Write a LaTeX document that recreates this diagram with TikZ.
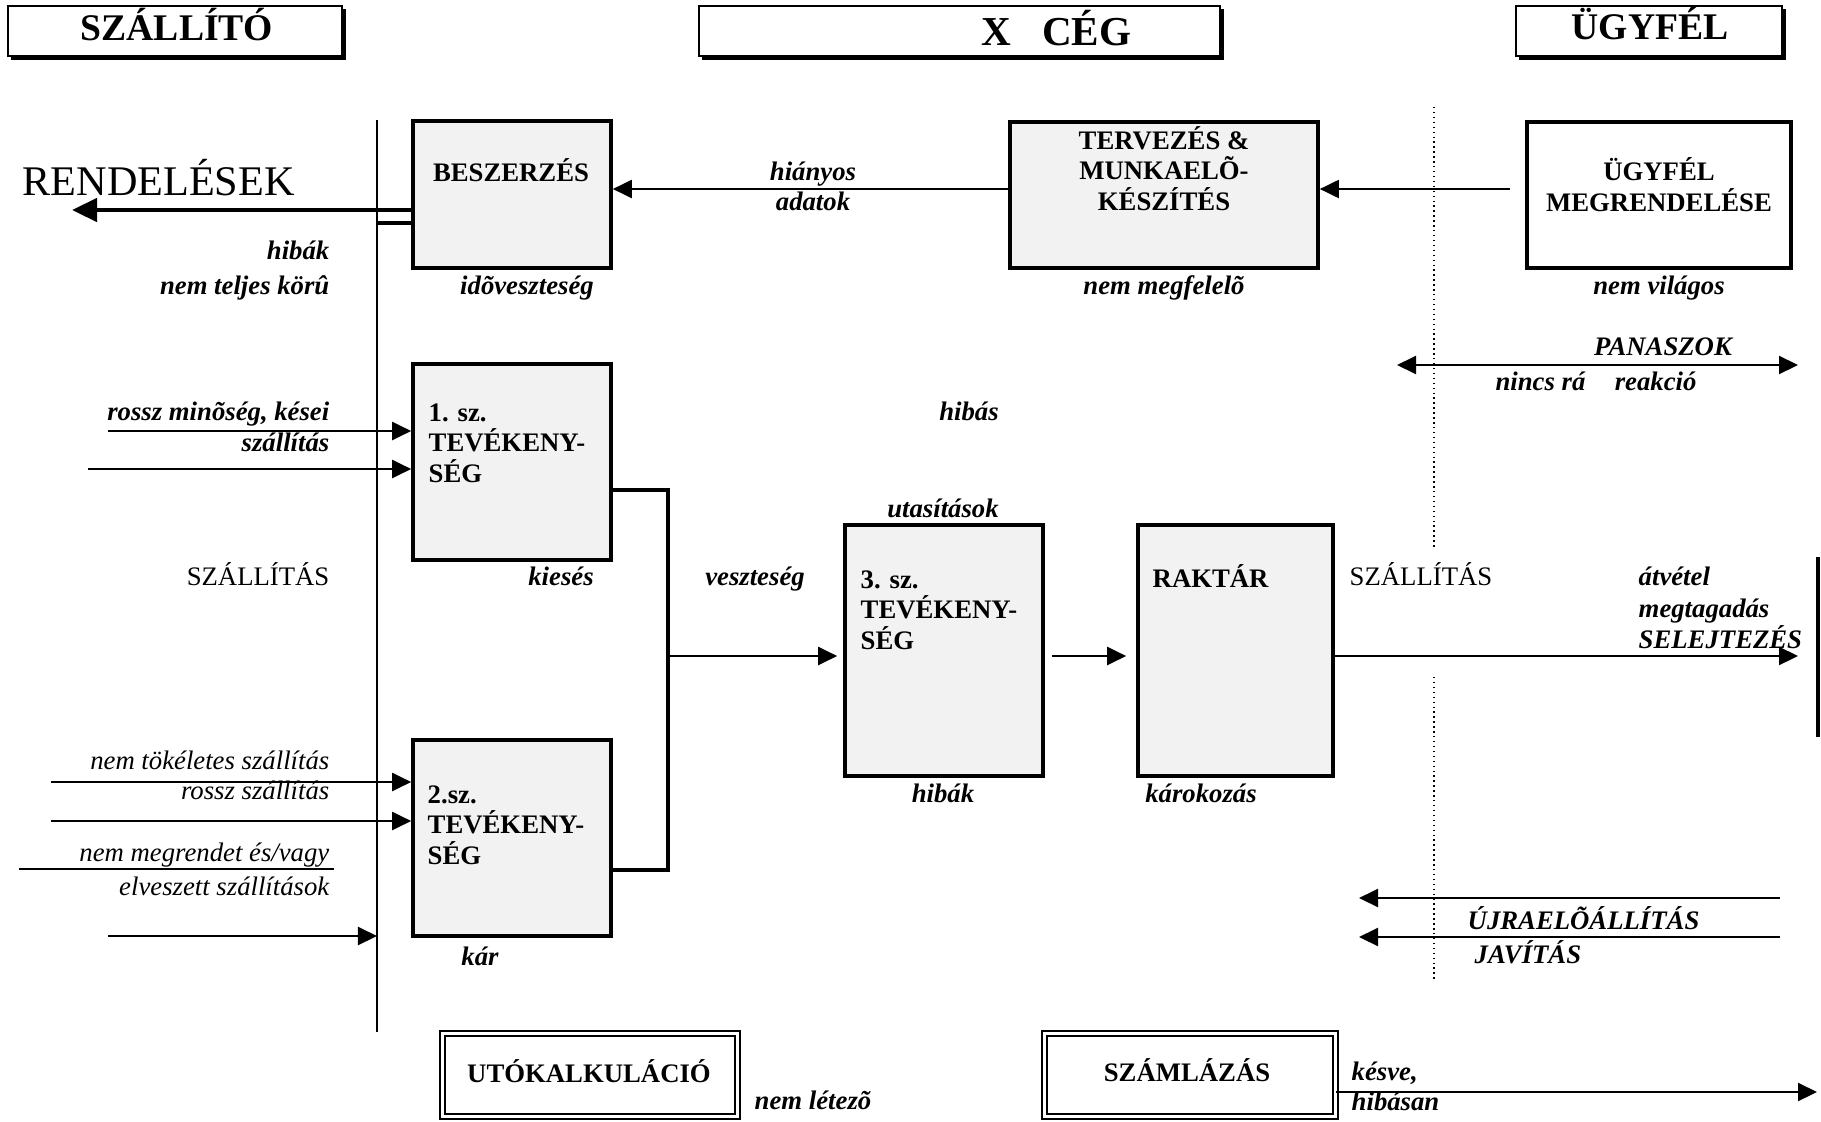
\documentclass[tikz,border=0pt]{standalone}
\usepackage{fontspec}
\setmainfont{Liberation Serif}
\usetikzlibrary{arrows.meta,shadows}
\definecolor{procgray}{RGB}{242,242,242}
\newcommand*{\boxfont}{\fontsize{7.6}{8.6}\selectfont\bfseries}
\newcommand*{\labfont}{\fontsize{7.6}{8.6}\selectfont\bfseries\itshape}
\newcommand*{\itfont}{\fontsize{7.6}{8.6}\selectfont\itshape}
\newcommand*{\plainfont}{\fontsize{7.6}{8.6}\selectfont}
\newcommand*{\headfont}{\fontsize{10.7}{12}\selectfont\bfseries}
\tikzset{
	proc/.style={draw, line width=1pt, fill=procgray, inner sep=0pt},
	whitebox/.style={proc, fill=white},
	headbox/.style={draw, fill=white, line width=0.6pt, minimum height=0.5cm, inner sep=0pt,
		drop shadow={shadow xshift=0.035cm, shadow yshift=-0.035cm, fill=black, opacity=1}},
	dblbox/.style={draw, double, line width=0.5pt, double distance=0.9pt, fill=white, inner sep=0pt},
	boxtxt/.style={font=\boxfont, inner sep=0pt, align=left},
	headtxt/.style={font=\headfont, inner sep=0pt},
	lab/.style={font=\labfont, inner sep=0pt, text height=0.7em, text depth=0.22em},
	labit/.style={lab, font=\itfont},
	labrm/.style={lab, font=\plainfont},
	arr/.style={-{Triangle[length=0.19cm,width=0.18cm]}, line width=0.6pt},
	dblarr/.style={{Triangle[length=0.19cm,width=0.18cm]}-{Triangle[length=0.19cm,width=0.18cm]}, line width=0.6pt},
	bigarr/.style={-{Triangle[length=0.25cm,width=0.23cm]}, line width=1.3pt},
	thinline/.style={line width=0.6pt},
	border/.style={densely dotted, line width=0.4pt}
}
\begin{document}
\begin{tikzpicture}[x=0.01cm, y=-0.01cm]
	\useasboundingbox (0,0) rectangle (1821,1121);

	% fejlecek
	\node[headbox, minimum width=3.34cm] (szallito) at (175,31) {};
	\node[headtxt, anchor=base] (szallitoT) at (177,41) {SZÁLLÍTÓ};
	\node[headbox, minimum width=5.21cm] (xceg) at (959.5,31) {};
	\node[headtxt, font=\fontsize{11.7}{13}\selectfont\bfseries, anchor=base west] (xcegT) at (981,45) {X\hspace{0.75em}CÉG};
	\node[headbox, minimum width=2.66cm] (ugyfel) at (1649,31) {};
	\node[headtxt, anchor=base] (ugyfelT) at (1650,40) {ÜGYFÉL};

	% dobozok (tobbsoros szoveg: base = utolso sor)
	\node[proc, minimum width=1.98cm, minimum height=1.47cm] (besz) at (512,194.5) {};
	\node[boxtxt, anchor=base] (beszT) at (511,181) {BESZERZÉS};
	\node[proc, minimum width=3.08cm, minimum height=1.46cm] (terv) at (1164,195) {};
	\node[boxtxt, align=center, anchor=base] (tervT) at (1164,210) {TERVEZÉS \&\\ MUNKAELÕ-\\ KÉSZÍTÉS};
	\node[whitebox, minimum width=2.64cm, minimum height=1.46cm] (megr) at (1659,195) {};
	\node[boxtxt, align=center, anchor=base] (megrT) at (1659,211) {ÜGYFÉL\\ MEGRENDELÉSE};
	\node[proc, minimum width=1.98cm, minimum height=1.96cm] (tev1) at (512,462) {};
	\node[boxtxt, anchor=base west] (tev1T) at (428,482) {1. sz.\\ TEVÉKENY-\\ SÉG};
	\node[proc, minimum width=1.98cm, minimum height=1.96cm] (tev2) at (512,838) {};
	\node[boxtxt, anchor=base west] (tev2T) at (427,864) {2.sz.\\ TEVÉKENY-\\ SÉG};
	\node[proc, minimum width=1.98cm, minimum height=2.51cm] (tev3) at (944,650.5) {};
	\node[boxtxt, anchor=base west] (tev3T) at (860,649) {3. sz.\\ TEVÉKENY-\\ SÉG};
	\node[proc, minimum width=1.95cm, minimum height=2.51cm] (raktar) at (1235.5,650.5) {};
	\node[boxtxt, anchor=base west] (raktarT) at (1152,587) {RAKTÁR};
	\node[dblbox, minimum width=2.95cm, minimum height=0.83cm] (utokalk) at (590,1075) {};
	\node[boxtxt, anchor=base] (utokalkT) at (589,1082) {UTÓKALKULÁCIÓ};
	\node[dblbox, minimum width=2.91cm, minimum height=0.83cm] (szamla) at (1190,1075) {};
	\node[boxtxt, anchor=base] (szamlaT) at (1187,1081) {SZÁMLÁZÁS};

	% vonalak
	\coordinate (vtop) at (377,120);
	\coordinate (vbot) at (377,1032);
	\draw[thinline] (vtop) -- (vbot);
	\coordinate (dotA) at (1434,107);
	\coordinate (dotB) at (1434,547);
	\coordinate (dotC) at (1434,677);
	\coordinate (dotD) at (1434,982);
	\draw[border] (dotA) -- (dotB);
	\draw[border] (dotC) -- (dotD);

	\coordinate (rend) at (72,210);
	\draw[bigarr] (besz.west |- rend) -- (rend);
	\coordinate (hib) at (377,223);
	\draw[line width=1.1pt] (hib) -- (besz.west |- hib);
	\coordinate (hiany) at (0,189);
	\draw[arr] (terv.west |- hiany) -- (besz.east |- hiany);
	\draw[arr, shorten <=0.15cm] (megr.west |- hiany) -- (terv.east |- hiany);
	\coordinate (panL) at (1397,365);
	\coordinate (panR) at (1798,365);
	\draw[dblarr] (panL) -- (panR);

	\coordinate (be1) at (108,431);
	\coordinate (be2) at (88,469);
	\draw[arr] (be1) -- (tev1.west |- be1);
	\draw[arr] (be2) -- (tev1.west |- be2);
	\coordinate (be3) at (51,782);
	\coordinate (be4) at (51,821);
	\draw[arr] (be3) -- (tev2.west |- be3);
	\draw[arr] (be4) -- (tev2.west |- be4);
	\coordinate (elv) at (19,869);
	\coordinate (elvR) at (334,869);
	\draw[thinline] (elv) -- (elvR);
	\coordinate (be5) at (108,936);
	\draw[arr] (be5) -- (vtop |- be5);

	\coordinate (join) at (668,656);
	\draw[line width=1pt] (tev1.east |- 0,490) -| (join) |- (tev2.east |- 0,870);
	\draw[arr, shorten >=0.06cm] (join) -- (tev3.west |- join);
	\draw[arr, shorten <=0.07cm, shorten >=0.1cm] (tev3.east |- join) -- (raktar.west |- join);
	\coordinate (kiR) at (1798,656);
	\draw[arr] (raktar.east |- join) -- (kiR);
	\coordinate (barT) at (1818,557);
	\coordinate (barB) at (1818,737);
	\draw[line width=1.1pt] (barT) -- (barB);

	\coordinate (ujR) at (1780,898);
	\coordinate (ujL) at (1359,898);
	\coordinate (javR) at (1780,937);
	\coordinate (javL) at (1359,937);
	\draw[arr] (ujR) -- (ujL);
	\draw[arr] (javR) -- (javL);
	\coordinate (szR) at (1817,1092);
	\draw[arr] (szamla.east |- szR) -- (szR);

	% feliratok
	\node[anchor=base west, inner sep=0pt, font=\fontsize{12}{14}\selectfont] (rendT) at (22,195) {RENDELÉSEK};
	\node[lab, anchor=east] (l1) at (330,251) {hibák};
	\node[lab, anchor=east] (l2) at (330,286) {nem teljes körû};
	\node[lab] (l3) at (527,286) {idõveszteség};
	\node[lab] (l4) at (813,172) {hiányos};
	\node[lab] (l5) at (813,202) {adatok};
	\node[lab] (l6) at (1164,286) {nem megfelelõ};
	\node[lab] (l7) at (1659,286) {nem világos};
	\node[lab] (l8) at (1663,347) {PANASZOK};
	\node[lab] (l9) at (1596,382) {nincs rá\hspace{0.85em} reakció};
	\node[lab] (l10) at (969,412) {hibás};
	\node[lab, anchor=east] (l11) at (330,412) {rossz minõség, kései};
	\node[lab, anchor=east] (l12) at (330,443) {szállítás};
	\node[lab] (l13) at (943,509) {utasítások};
	\node[labrm, anchor=east] (l14) at (330,577) {SZÁLLÍTÁS};
	\node[lab] (l15) at (561,577) {kiesés};
	\node[lab] (l16) at (755,577) {veszteség};
	\node[labrm, anchor=west] (l17) at (1349,577) {SZÁLLÍTÁS};
	\node[lab, anchor=west] (l18) at (1638,577) {átvétel};
	\node[lab, anchor=west] (l19) at (1638,609) {megtagadás};
	\node[lab, anchor=west] (l20) at (1638,640) {SELEJTEZÉS};
	\node[labit, anchor=east] (l21) at (330,761) {nem tökéletes szállítás};
	\node[labit, anchor=east] (l22) at (330,791) {rossz szállítás};
	\node[lab] (l23) at (943,794) {hibák};
	\node[lab] (l24) at (1201,794) {károkozás};
	\node[labit, anchor=east] (l25) at (330,853) {nem megrendet és/vagy};
	\node[labit, anchor=east] (l26) at (330,887) {elveszett szállítások};
	\node[lab, anchor=west] (l27) at (1467,921) {ÚJRAELÕÁLLÍTÁS};
	\node[lab, anchor=west] (l28) at (1474,955) {JAVÍTÁS};
	\node[lab] (l29) at (480,957) {kár};
	\node[lab] (l30) at (813,1101) {nem létezõ};
	\node[lab, anchor=west] (l31) at (1351,1072) {késve,};
	\node[lab, anchor=west] (l32) at (1351,1102) {hibásan};
\end{tikzpicture}
\end{document}
